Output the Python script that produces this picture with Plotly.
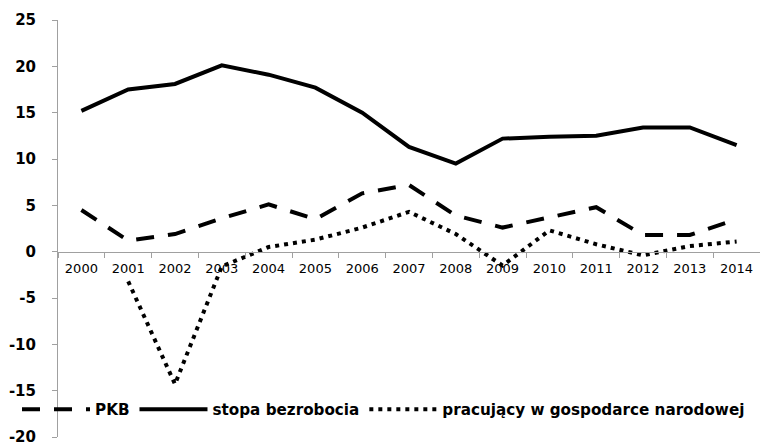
import plotly.graph_objects as go

years = ["2000", "2001", "2002", "2003", "2004", "2005", "2006", "2007",
         "2008", "2009", "2010", "2011", "2012", "2013", "2014"]
pkb = [4.5, 1.2, 1.9, 3.6, 5.1, 3.5, 6.3, 7.2, 3.9, 2.6, 3.7, 4.8, 1.8, 1.8, 3.5]
stopa = [15.2, 17.5, 18.1, 20.1, 19.1, 17.7, 15.0, 11.3, 9.5, 12.2, 12.4, 12.5, 13.4, 13.4, 11.5]
pracujacy = [None, -3.2, -14.3, -1.6, 0.5, 1.3, 2.6, 4.3, 1.9, -1.5, 2.3, 0.8, -0.4, 0.6, 1.1]

y_ticks = [25, 20, 15, 10, 5, 0, -5, -10, -15, -20]
y_tick_labels = ["25", "20", "15", "10", "5", "0", "-5", "-10", "-15", "-20"]

W, H = 760, 446
AXIS_X = 58

fig = go.Figure()
fig.add_trace(go.Scatter(x=years, y=pkb, mode="lines", name="PKB",
                         line=dict(color="black", width=4, dash="18px,14px")))
fig.add_trace(go.Scatter(x=years, y=stopa, mode="lines", name="stopa bezrobocia",
                         line=dict(color="black", width=4)))
fig.add_trace(go.Scatter(x=years, y=pracujacy, mode="lines",
                         name="pracujący w gospodarce narodowej",
                         line=dict(color="black", width=4, dash="4px,5px")))

fig.update_layout(
    width=W, height=H,
    margin=dict(l=0, r=0, t=20, b=9, autoexpand=False),
    paper_bgcolor="white", plot_bgcolor="white",
    showlegend=True,
    legend=dict(orientation="h", x=17 / W, y=0.066, xanchor="left", yanchor="middle",
                bgcolor="rgba(0,0,0,0)", itemwidth=68, tracegroupgap=0,
                font=dict(family="DejaVu Sans", size=15.2, color="black", weight="bold")),
    xaxis=dict(type="category", anchor="free", position=20 / 45,
               domain=[AXIS_X / W, 1],
               showline=True, linecolor="#a0a0a0", linewidth=1,
               ticks="outside", ticklen=5, tickcolor="#a0a0a0", tickson="boundaries",
               showgrid=False, zeroline=False, ticklabelstandoff=5,
               tickfont=dict(family="DejaVu Sans", size=13, color="black"),
               range=[-0.5, 14.5]),
    yaxis=dict(range=[-20, 25], tickvals=y_ticks, ticktext=y_tick_labels,
               showline=True, linecolor="#a0a0a0",
               linewidth=1, ticks="outside", ticklen=5, tickcolor="#a0a0a0",
               showgrid=False, zeroline=False, ticklabelstandoff=13,
               ticklabeloverflow="allow",
               tickfont=dict(family="DejaVu Sans", size=15, color="black", weight="bold")),
)

fig.write_html("out.html", config={"displayModeBar": False},
               post_script="document.body.style.margin='0';")
